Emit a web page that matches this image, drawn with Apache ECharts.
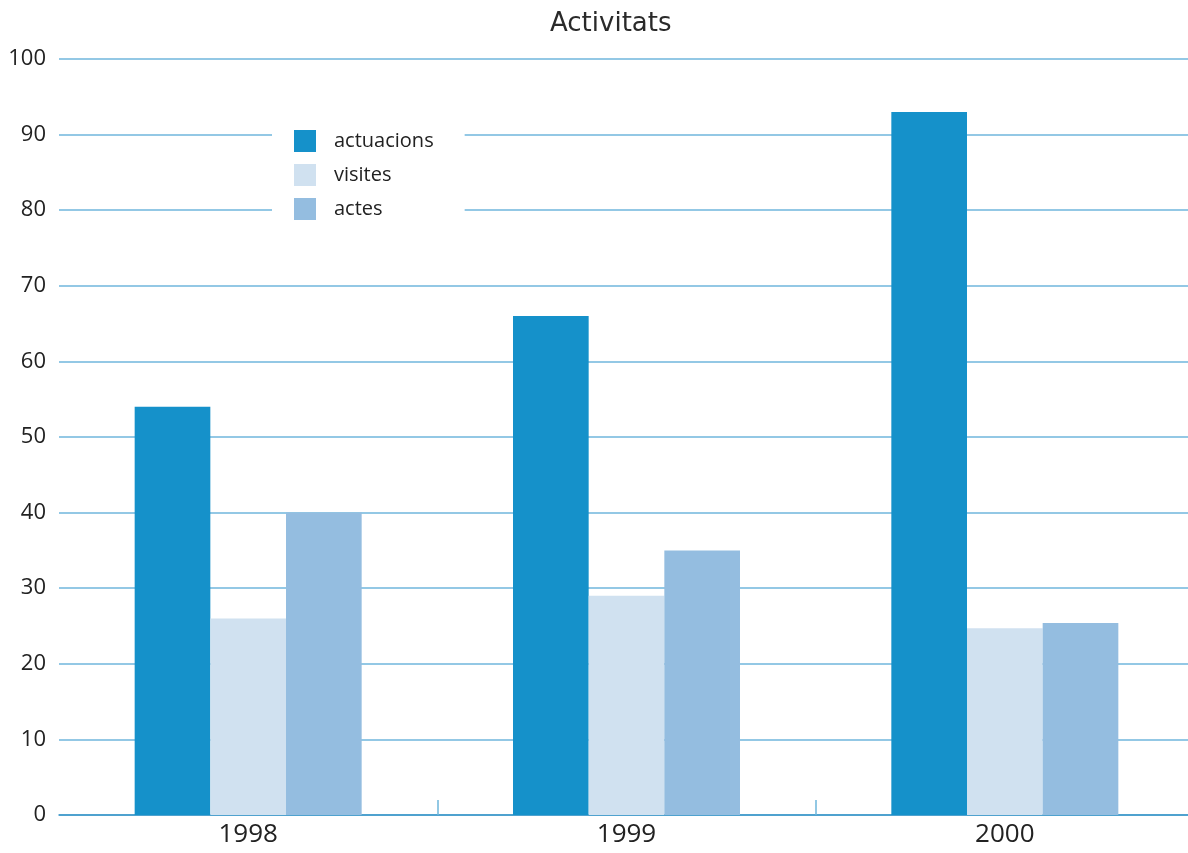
<!DOCTYPE html>
<html>
<head>
<meta charset="utf-8">
<script src="https://cdn.jsdelivr.net/npm/echarts@6/dist/echarts.min.js"></script>
<style>
  html, body { margin: 0; padding: 0; background: #fff; }
  #chart { width: 1188px; height: 853px; }
</style>
</head>
<body>
<div id="chart"></div>
<script>
const years = ['1998', '1999', '2000']
const actuacions = [54, 66, 93]
const visites = [26, 29, 24.7]
const actes = [40, 35, 25.4]

const font = '"Open Sans", "DejaVu Sans", sans-serif'
const chart = echarts.init(document.getElementById('chart'))

chart.setOption({
  backgroundColor: '#fff',
  animation: false,
  textStyle: { fontFamily: font },
  title: {
    text: 'Activitats',
    left: 545,
    top: 6,
    textStyle: { fontFamily: '"DejaVu Sans", sans-serif', fontSize: 26, fontWeight: 'normal', color: '#2a2a2a' }
  },
  legend: {
    orient: 'vertical',
    left: 272,
    top: 120,
    padding: [10, 31, 10, 22],
    backgroundColor: '#fff',
    itemWidth: 22,
    itemHeight: 22,
    itemGap: 12,
    icon: 'rect',
    textStyle: { fontFamily: font, fontSize: 20, color: '#222', padding: [0, 0, 0, 13] },
    data: ['actuacions', 'visites', 'actes']
  },
  // plot runs a little past the right edge, so the last boundary tick is off-canvas
  grid: { left: 59, right: -6, top: 59, bottom: 38, containLabel: false, outerBoundsMode: 'none' },
  xAxis: {
    type: 'category',
    data: years,
    axisLine: { lineStyle: { color: '#3a95c8', width: 1.5 } },
    axisTick: {
      show: true,
      inside: true,
      length: 15,
      lineStyle: { color: '#6fb6dc', width: 1.5 },
      interval: (i) => i !== 0
    },
    axisLabel: { fontFamily: font, fontSize: 26, color: '#222', margin: 7 }
  },
  yAxis: {
    type: 'value',
    min: 0,
    max: 100,
    interval: 10,
    axisLine: { show: false },
    axisTick: { show: false },
    splitLine: { lineStyle: { color: '#6fb6dc', width: 1.5 } },
    axisLabel: { fontFamily: font, fontSize: 22, color: '#222', margin: 13 }
  },
  series: [
    { name: 'actuacions', type: 'bar', data: actuacions, barWidth: '20%', barGap: '0%', itemStyle: { color: '#1591ca' } },
    { name: 'visites', type: 'bar', data: visites, barWidth: '20%', itemStyle: { color: '#d0e1f0' } },
    { name: 'actes', type: 'bar', data: actes, barWidth: '20%', itemStyle: { color: '#94bde0' } }
  ]
})
</script>
</body>
</html>
